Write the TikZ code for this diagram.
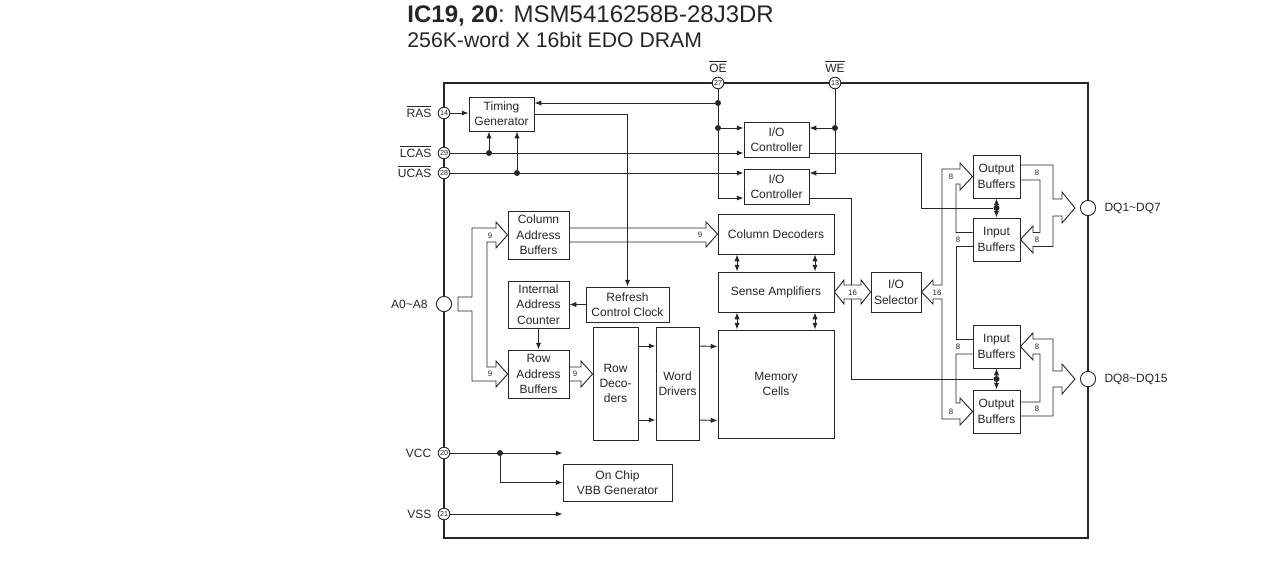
\documentclass[tikz,border=0pt]{standalone}
\usepackage{fontspec}
\setmainfont{Liberation Sans}
\usetikzlibrary{arrows.meta,positioning,calc}
\definecolor{ink}{HTML}{262626}
\newcommand{\barsig}[1]{$\overline{\mbox{#1}}$}

\begin{document}
\begin{tikzpicture}[
  x=0.5pt, y=-0.5pt, color=ink, line width=0.45pt,
  font=\fontsize{6}{7.7}\selectfont,
  blk/.style={draw, align=center, inner sep=1pt},
  arr/.style={-{Latex[length=3.4pt,width=2.6pt]}},
  arrb/.style={{Latex[length=3.4pt,width=2.6pt]}-{Latex[length=3.4pt,width=2.6pt]}},
  pin/.style={circle, draw, fill=white, inner sep=0pt, minimum size=5.8pt,
              font=\fontsize{3.6}{4}\selectfont},
  bigpin/.style={circle, draw, fill=white, inner sep=0pt, minimum size=7.6pt},
  pinlbl/.style={inner sep=0pt},
  bus/.style={draw, line join=miter},
  bw/.style={font=\fontsize{3.9}{4}\selectfont, inner sep=0pt},
  dot/.style={circle, fill, inner sep=0pt, minimum size=3pt},
]
\useasboundingbox (0,0) rectangle (1268,585);

\node[anchor=base west, inner sep=0pt, font=\fontsize{12}{14}\selectfont] (title) at (407,22)
  {\textbf{IC19, 20}: MSM5416258B-28J3DR};
\node[anchor=base west, inner sep=0pt, font=\fontsize{10.6}{12}\selectfont] (subtitle) at (407,47)
  {256K-word X 16bit EDO DRAM};

\draw[line width=1pt] (444,83) rectangle (1088,538);

\node[pin] (p14) at (444,113) {14};
\node[pin] (p29) at (444,153) {29};
\node[pin] (p28) at (444,173) {28};
\node[pin] (p20) at (444,453) {20};
\node[pin] (p21) at (444,514) {21};
\node[pin] (p27) at (718,83) {27};
\node[pin] (p13) at (835,83) {13};
\node[bigpin] (addr) at (444,304) {};
\node[bigpin] (dqa) at (1088,208) {};
\node[bigpin] (dqb) at (1088,379) {};

\node[pinlbl, left=3pt of p14, yshift=1pt] (l14) {\barsig{RAS}};
\node[pinlbl, left=3pt of p29, yshift=1pt] (l29) {\barsig{LCAS}};
\node[pinlbl, left=3pt of p28, yshift=1pt] (l28) {\barsig{UCAS}};
\node[pinlbl, left=3pt of p20] (l20) {VCC};
\node[pinlbl, left=3pt of p21] (l21) {VSS};
\node[pinlbl, left=4pt of addr] (laddr) {A0\textasciitilde A8};
\node[pinlbl, above=2pt of p27] (l27) {\barsig{OE}};
\node[pinlbl, above=2pt of p13] (l13) {\barsig{WE}};
\node[pinlbl, right=4pt of dqa] (ldqa) {DQ1\textasciitilde DQ7};
\node[pinlbl, right=4pt of dqb] (ldqb) {DQ8\textasciitilde DQ15};

\node[blk, minimum width=32.5pt, minimum height=17pt] (tg) at (501.5,114) {Timing\\Generator};
\node[blk, minimum width=32.5pt, minimum height=17.5pt] (ioc1) at (776.5,139.5) {I/O\\Controller};
\node[blk, minimum width=32.5pt, minimum height=17.5pt] (ioc2) at (776.5,186.5) {I/O\\Controller};
\node[blk, minimum width=30.5pt, minimum height=24pt] (cab) at (538.5,235) {Column\\Address\\Buffers};
\node[blk, minimum width=58pt, minimum height=20pt] (cd) at (776,234) {Column Decoders};
\node[blk, minimum width=58pt, minimum height=20pt] (sa) at (776,292) {Sense Amplifiers};
\node[blk, minimum width=30.5pt, minimum height=23.5pt] (iac) at (538.5,304.5) {Internal\\Address\\Counter};
\node[blk, minimum width=41.5pt, minimum height=17.5pt] (rcc) at (627.5,304.5) {Refresh\\Control Clock};
\node[blk, minimum width=30.5pt, minimum height=24pt] (rab) at (538.5,374) {Row\\Address\\Buffers};
\node[blk, minimum width=22.5pt, minimum height=56.5pt] (rd) at (615.5,383.5) {Row\\Deco-\\ders};
\node[blk, minimum width=21.5pt, minimum height=56.5pt] (wd) at (677.5,383.5) {Word\\Drivers};
\node[blk, minimum width=58pt, minimum height=54pt] (mc) at (776,384) {Memory\\Cells};
\node[blk, minimum width=25pt, minimum height=20pt] (sel) at (896,292) {I/O\\Selector};
\node[blk, minimum width=23.5pt, minimum height=21.5pt] (ob1) at (996.5,176.5) {Output\\Buffers};
\node[blk, minimum width=23.5pt, minimum height=21.5pt] (ib1) at (996.5,239.5) {Input\\Buffers};
\node[blk, minimum width=23.5pt, minimum height=21.5pt] (ib2) at (996.5,346.5) {Input\\Buffers};
\node[blk, minimum width=23.5pt, minimum height=21.5pt] (ob2) at (996.5,411.5) {Output\\Buffers};
\node[blk, minimum width=54.5pt, minimum height=18.5pt] (vbb) at (617.5,482.5) {On Chip\\VBB Generator};

\node[dot] (j1) at (718,103) {};
\node[dot] (j2) at (718,128) {};
\node[dot] (j3) at (835,128) {};
\node[dot] (j4) at (489,153) {};
\node[dot] (j5) at (517,173) {};
\node[dot] (j6) at (500,453) {};
\node[dot] (j7) at (996.5,208) {};
\node[dot] (j8) at (996.5,379) {};

\draw[arr] (p14) -- (p14 -| tg.west);
\draw[arr] (p29) -- (p29 -| ioc1.west);
\draw[arr] (p28) -- (p28 -| ioc2.west);
\draw[arr] (j4) -- (j4 |- tg.south);
\draw[arr] (j5) -- (j5 |- tg.south);
\draw (p27) -- (j1) -- (j2);
\draw[arr] (j1) -- (j1 -| tg.east);
\draw[arr] (j2) -- (j2 -| ioc1.west);
\draw[arr] (j2) |- ($(ioc2.west)+(0,11.5)$);
\draw (p13) -- (j3);
\draw[arr] (j3) -- (j3 -| ioc1.east);
\draw[arr] (j3) |- ($(ioc2.east)+(0,-13.5)$);
\draw[arr] (tg.east) -| (rcc.north);
\draw ($(ioc1.east)+(0,13.5)$) -| (921,208) -- (j7);
\draw ($(ioc2.east)+(0,11.5)$) -| (851,379) -- (j8);
\draw[arrb] (ob1) -- (ib1);
\draw[arrb] (ib2) -- (ob2);
\foreach \dx in {-39,39} {
  \draw[arrb] ($(cd.south)+(\dx,0)$) -- ($(sa.north)+(\dx,0)$);
  \draw[arrb] ($(sa.south)+(\dx,0)$) -- ($(mc.north)+(\dx,0)$);
}
\foreach \dy in {-37.5,36.5} {
  \draw[arr] ($(rd.east)+(0,\dy)$) -- ($(wd.west)+(0,\dy)$);
  \draw[arr] ($(wd.east)+(0,\dy)$) -- ($(mc.west)+(0,\dy)$);
}
\draw[arr] (rcc) -- (iac);
\draw[arr] (iac) -- (rab);
\draw[arr] (p20) -- (p20 -| vbb.west);
\draw[arr] (j6) |- (vbb.west);
\draw[arr] (p21) -- (p21 -| vbb.west);

\draw[bus] (458,297) -- (472,297) -- (472,228) -- (496,228) -- (496,222) -- (cab.west)
  -- (496,248) -- (496,242) -- (487,242) -- (487,367) -- (496,367) -- (496,361)
  -- (rab.west) -- (496,387) -- (496,381) -- (472,381) -- (472,311) -- (458,311) -- cycle;
\draw[bus] ($(cab.east)+(0,-7)$) -- (706,228) -- (706,222) -- (cd.west) -- (706,247)
  -- (706,242) -- ($(cab.east)+(0,7)$);
\draw[bus] ($(rab.east)+(0,-7)$) -- (581,367) -- (581,361) -- (rd.west |- rab.east)
  -- (581,387) -- (581,381) -- ($(rab.east)+(0,7)$);
\draw[bus, fill=white] (sa.east) -- (844,280) -- (844,285) -- (861,285) -- (861,280)
  -- (sel.west) -- (861,304) -- (861,299) -- (844,299) -- (844,304) -- cycle;
\draw[bus] ($(ib1.west)+(0,-7)$) -- (956,232.5) -- (956,184) -- (960,184) -- (960,190)
  -- (ob1.west) -- (960,163) -- (960,169) -- (942,169) -- (942,285) -- (933,285)
  -- (933,280) -- (sel.east) -- (933,304) -- (933,299) -- (942,299) -- (942,419)
  -- (960,419) -- (960,425) -- (ob2.west) -- (960,398) -- (960,403) -- (956,403)
  -- (956,354) -- ($(ib2.west)+(0,7.5)$);
\draw[bus] ($(ib1.west)+(0,7)$) -- (956,246.5) -- (956,339) -- ($(ib2.west)+(0,-7.5)$);
\draw[bus] ($(ob1.east)+(0,-11.5)$) -- (1053,165) -- (1053,199) -- (1062,199) -- (1062,192)
  -- ($(dqa.west)+(-5,0)$) -- (1062,223) -- (1062,216) -- (1053,216) -- (1053,246.5)
  -- (1033,246.5) -- (1033,253) -- (ib1.east) -- (1033,226) -- (1033,232.5)
  -- (1040,232.5) -- (1040,180) -- ($(ob1.east)+(0,3.5)$);
\draw[bus] ($(ob2.east)+(0,-9.5)$) -- (1040,402) -- (1040,354) -- (1033,354) -- (1033,360)
  -- (ib2.east) -- (1033,333) -- (1033,339) -- (1053,339) -- (1053,371) -- (1062,371)
  -- (1062,364) -- ($(dqb.west)+(-5,0)$) -- (1062,394) -- (1062,387) -- (1053,387)
  -- (1053,416) -- ($(ob2.east)+(0,4.5)$);

\node[bw] (w1) at (490,236) {9};
\node[bw] (w2) at (490,374) {9};
\node[bw] (w3) at (700,235) {9};
\node[bw] (w4) at (575,374) {9};
\node[bw] (w5) at (852.5,292.5) {16};
\node[bw] (w6) at (937,293) {16};
\node[bw] (w7) at (951,176.5) {8};
\node[bw] (w8) at (958,240) {8};
\node[bw] (w9) at (958,347) {8};
\node[bw] (w10) at (951,411.5) {8};
\node[bw] (w11) at (1037,172.5) {8};
\node[bw] (w12) at (1037,239.5) {8};
\node[bw] (w13) at (1037,346.5) {8};
\node[bw] (w14) at (1037,409) {8};
\end{tikzpicture}
\end{document}
